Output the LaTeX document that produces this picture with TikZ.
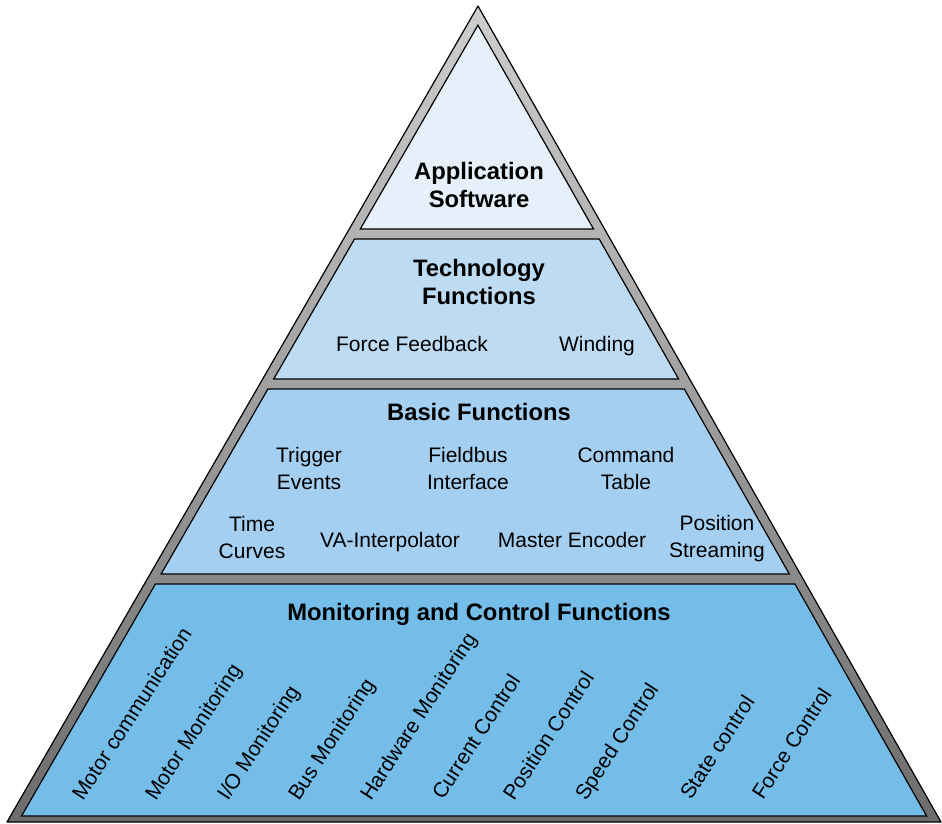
\documentclass[tikz,border=0pt]{standalone}
\usepackage{fontspec}
\setmainfont{Liberation Sans}
\definecolor{cA}{RGB}{229,240,250}
\definecolor{cB}{RGB}{189,219,243}
\definecolor{cC}{RGB}{165,207,240}
\definecolor{cD}{RGB}{116,189,233}
\definecolor{gTop}{RGB}{206,206,206}
\definecolor{gBot}{RGB}{108,108,108}
\begin{document}
\begin{tikzpicture}[x=1pt,y=-1pt,
  lvl/.style={draw=black, line width=1.2pt, line join=miter},
  hd/.style={font=\fontsize{23.8}{28.5}\selectfont\bfseries, align=center, inner sep=0pt},
  lb/.style={font=\fontsize{21}{27}\selectfont, align=center, inner sep=0pt},
  rl/.style={font=\fontsize{21}{27}\selectfont, anchor=base west, rotate=57, inner sep=0pt}]
\useasboundingbox (0,0) rectangle (942,823);
% outer gray frame
\path[draw=black, line width=1.2pt, line join=round, top color=gTop, bottom color=gBot]
  (478,6) -- (941,822) -- (7,822) -- cycle;
% levels
\path[lvl, fill=cA] (477.9,25.2) -- (593.5,229) -- (360.3,229) -- cycle;
\path[lvl, fill=cB] (354.5,239) -- (599.2,239) -- (678.6,379) -- (273.7,379) -- cycle;
\path[lvl, fill=cC] (267.9,389) -- (684.3,389) -- (789.3,574) -- (161.1,574) -- cycle;
\path[lvl, fill=cD] (155.4,584) -- (795,584) -- (926.6,816) -- (21.5,816) -- cycle;
% level 1
\node[hd] (app) at (479,185) {Application\\Software};
% level 2
\node[hd] (tech) at (479,282) {Technology\\Functions};
\node[lb, anchor=base] (ff) at (412,351) {Force Feedback};
\node[lb, anchor=base] (wind) at (597,351) {Winding};
% level 3
\node[hd, anchor=base] (basic) at (479,420) {Basic Functions};
\node[lb] (trig) at (309,468) {Trigger\\Events};
\node[lb] (field) at (468,468) {Fieldbus\\Interface};
\node[lb] (cmd) at (626,468) {Command\\Table};
\node[lb] (time) at (252,537) {Time\\Curves};
\node[lb, anchor=base] (va) at (390,547) {VA-Interpolator};
\node[lb, anchor=base] (menc) at (572,547) {Master Encoder};
\node[lb] (pstr) at (717,539) {Position\\Streaming};
% level 4
\node[hd, anchor=base] (mon) at (479,620) {Monitoring and Control Functions};
\node[rl] (r1) at (83,802) {Motor communication};
\node[rl] (r2) at (156,802) {Motor Monitoring};
\node[rl] (r3) at (228,802) {I/O Monitoring};
\node[rl] (r4) at (299,802) {Bus Monitoring};
\node[rl] (r5) at (371,802) {Hardware Monitoring};
\node[rl] (r6) at (443,801) {Current Control};
\node[rl] (r7) at (514,802) {Position Control};
\node[rl] (r8) at (586,802) {Speed Control};
\node[rl] (r9) at (691,801) {State control};
\node[rl] (r10) at (763,801) {Force Control};
\end{tikzpicture}
\end{document}
